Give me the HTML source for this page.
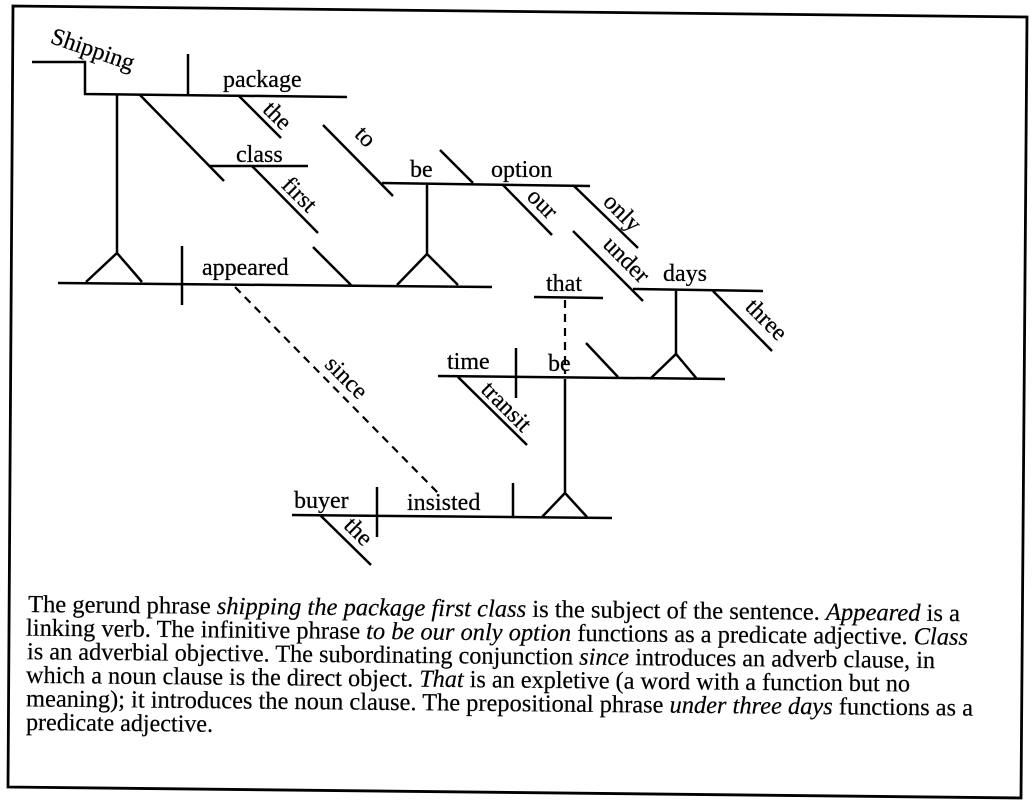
<!DOCTYPE html>
<html>
<head>
<meta charset="utf-8">
<style>
  html,body{margin:0;padding:0;background:#fff;}
  svg{display:block;}
  text{font-family:"Liberation Serif",serif;fill:#000;}
  .d{font-size:24px;stroke:#000;stroke-width:0.25;}
  .b{font-size:24.5px;stroke:#000;stroke-width:0.2;}
  .ln{stroke:#000;stroke-width:2.5;fill:none;stroke-linecap:butt;}
  .dash{stroke:#000;stroke-width:2.2;fill:none;stroke-dasharray:8 6;}
</style>
</head>
<body>
<svg width="1033" height="805" viewBox="0 0 1033 805" xmlns="http://www.w3.org/2000/svg">
  <rect x="0" y="0" width="1033" height="805" fill="#fff"/>
  <!-- border -->
  <polygon points="13,6 1027,17 1021,798 8,787" fill="none" stroke="#000" stroke-width="2.8"/>

  <!-- ===== Gerund phrase (subject) ===== -->
  <path class="ln" d="M32,62 H85 V94 L347,97"/>
  <line class="ln" x1="188" y1="54" x2="188" y2="95"/>
  <line class="ln" x1="239" y1="96" x2="281" y2="138"/>
  <line class="ln" x1="140" y1="95" x2="224" y2="181"/>
  <line class="ln" x1="210" y1="166" x2="308" y2="166"/>
  <line class="ln" x1="252" y1="166" x2="318" y2="233"/>
  <!-- stem + pedestal -->
  <line class="ln" x1="117" y1="95" x2="117" y2="253"/>
  <polyline class="ln" points="86,282 117,253 142,282"/>

  <text class="d" transform="translate(92,52) rotate(19)" text-anchor="middle" y="5">Shipping</text>
  <text class="d" x="223" y="87">package</text>
  <text class="d" transform="translate(277,116) rotate(45)" text-anchor="middle" y="7">the</text>
  <text class="d" x="236" y="162">class</text>
  <text class="d" transform="translate(299,195) rotate(45)" text-anchor="middle" y="7">first</text>

  <!-- ===== Main clause ===== -->
  <line class="ln" x1="58" y1="283" x2="492" y2="287"/>
  <line class="ln" x1="182" y1="246" x2="182" y2="305"/>
  <line class="ln" x1="313" y1="247" x2="351" y2="285"/>
  <text class="d" x="202" y="275">appeared</text>

  <!-- ===== Infinitive phrase ===== -->
  <line class="ln" x1="427" y1="185" x2="427" y2="254"/>
  <polyline class="ln" points="397,285 427,254 458,285"/>
  <line class="ln" x1="323" y1="125" x2="393" y2="196"/>
  <line class="ln" x1="382" y1="183" x2="590" y2="186"/>
  <line class="ln" x1="440" y1="150" x2="473" y2="183"/>
  <line class="ln" x1="503" y1="185" x2="552" y2="235"/>
  <line class="ln" x1="574" y1="186" x2="638" y2="248"/>
  <text class="d" transform="translate(365,137) rotate(45)" text-anchor="middle" y="7">to</text>
  <text class="d" x="410" y="177">be</text>
  <text class="d" x="491" y="177">option</text>
  <text class="d" transform="translate(542,204) rotate(45)" text-anchor="middle" y="7">our</text>
  <text class="d" transform="translate(622,213) rotate(45)" text-anchor="middle" y="7">only</text>

  <!-- ===== under three days ===== -->
  <line class="ln" x1="573" y1="231" x2="643" y2="301"/>
  <line class="ln" x1="633" y1="289" x2="763" y2="291"/>
  <line class="ln" x1="713" y1="291" x2="772" y2="351"/>
  <line class="ln" x1="676" y1="291" x2="676" y2="354"/>
  <polyline class="ln" points="650,379 676,354 697,379"/>
  <text class="d" transform="translate(626,260) rotate(45)" text-anchor="middle" y="7">under</text>
  <text class="d" x="663" y="281">days</text>
  <text class="d" transform="translate(766,320) rotate(45)" text-anchor="middle" y="7">three</text>

  <!-- ===== noun clause ===== -->
  <line class="ln" x1="534" y1="297" x2="603" y2="298"/>
  <text class="d" x="546" y="291">that</text>
  <line class="dash" x1="565" y1="300" x2="565" y2="374"/>
  <line class="ln" x1="438" y1="376" x2="725" y2="379"/>
  <line class="ln" x1="516" y1="348" x2="516" y2="398"/>
  <line class="ln" x1="586" y1="343" x2="618" y2="377"/>
  <line class="ln" x1="458" y1="377" x2="527" y2="445"/>
  <text class="d" x="447" y="369">time</text>
  <text class="d" x="548" y="371">be</text>
  <text class="d" transform="translate(506,407) rotate(45)" text-anchor="middle" y="7">transit</text>
  <line class="ln" x1="565" y1="379" x2="565" y2="493"/>
  <polyline class="ln" points="542,517 565,493 587,517"/>

  <!-- ===== adverb clause ===== -->
  <line class="dash" x1="235" y1="287" x2="440" y2="495"/>
  <text class="d" transform="translate(346,378) rotate(45)" text-anchor="middle" y="7">since</text>
  <line class="ln" x1="292" y1="515" x2="612" y2="518"/>
  <line class="ln" x1="377" y1="487" x2="377" y2="537"/>
  <line class="ln" x1="513" y1="483" x2="513" y2="517"/>
  <line class="ln" x1="320" y1="515" x2="371" y2="565"/>
  <text class="d" x="294" y="508">buyer</text>
  <text class="d" x="407" y="510">insisted</text>
  <text class="d" transform="translate(358,532) rotate(45)" text-anchor="middle" y="7">the</text>

  <!-- ===== explanatory text ===== -->
  <text class="b" x="28" y="612" textLength="932" lengthAdjust="spacingAndGlyphs" transform="rotate(0.56 28 612)">The gerund phrase <tspan font-style="italic">shipping the package first class</tspan> is the subject of the sentence. <tspan font-style="italic">Appeared</tspan> is a</text>
  <text class="b" x="26" y="635.6" textLength="942" lengthAdjust="spacingAndGlyphs" transform="rotate(0.56 26 635.6)">linking verb. The infinitive phrase <tspan font-style="italic">to be our only option</tspan> functions as a predicate adjective. <tspan font-style="italic">Class</tspan></text>
  <text class="b" x="27" y="659.2" textLength="908" lengthAdjust="spacingAndGlyphs" transform="rotate(0.56 27 659.2)">is an adverbial objective. The subordinating conjunction <tspan font-style="italic">since</tspan> introduces an adverb clause, in</text>
  <text class="b" x="26" y="682.8" textLength="884" lengthAdjust="spacingAndGlyphs" transform="rotate(0.56 26 682.8)">which a noun clause is the direct object. <tspan font-style="italic">That</tspan> is an expletive (a word with a function but no</text>
  <text class="b" x="26" y="706.4" textLength="947" lengthAdjust="spacingAndGlyphs" transform="rotate(0.56 26 706.4)">meaning); it introduces the noun clause. The prepositional phrase <tspan font-style="italic">under three days</tspan> functions as a</text>
  <text class="b" x="26" y="730" textLength="187" lengthAdjust="spacingAndGlyphs" transform="rotate(0.56 26 730)">predicate adjective.</text>
</svg>
</body>
</html>
